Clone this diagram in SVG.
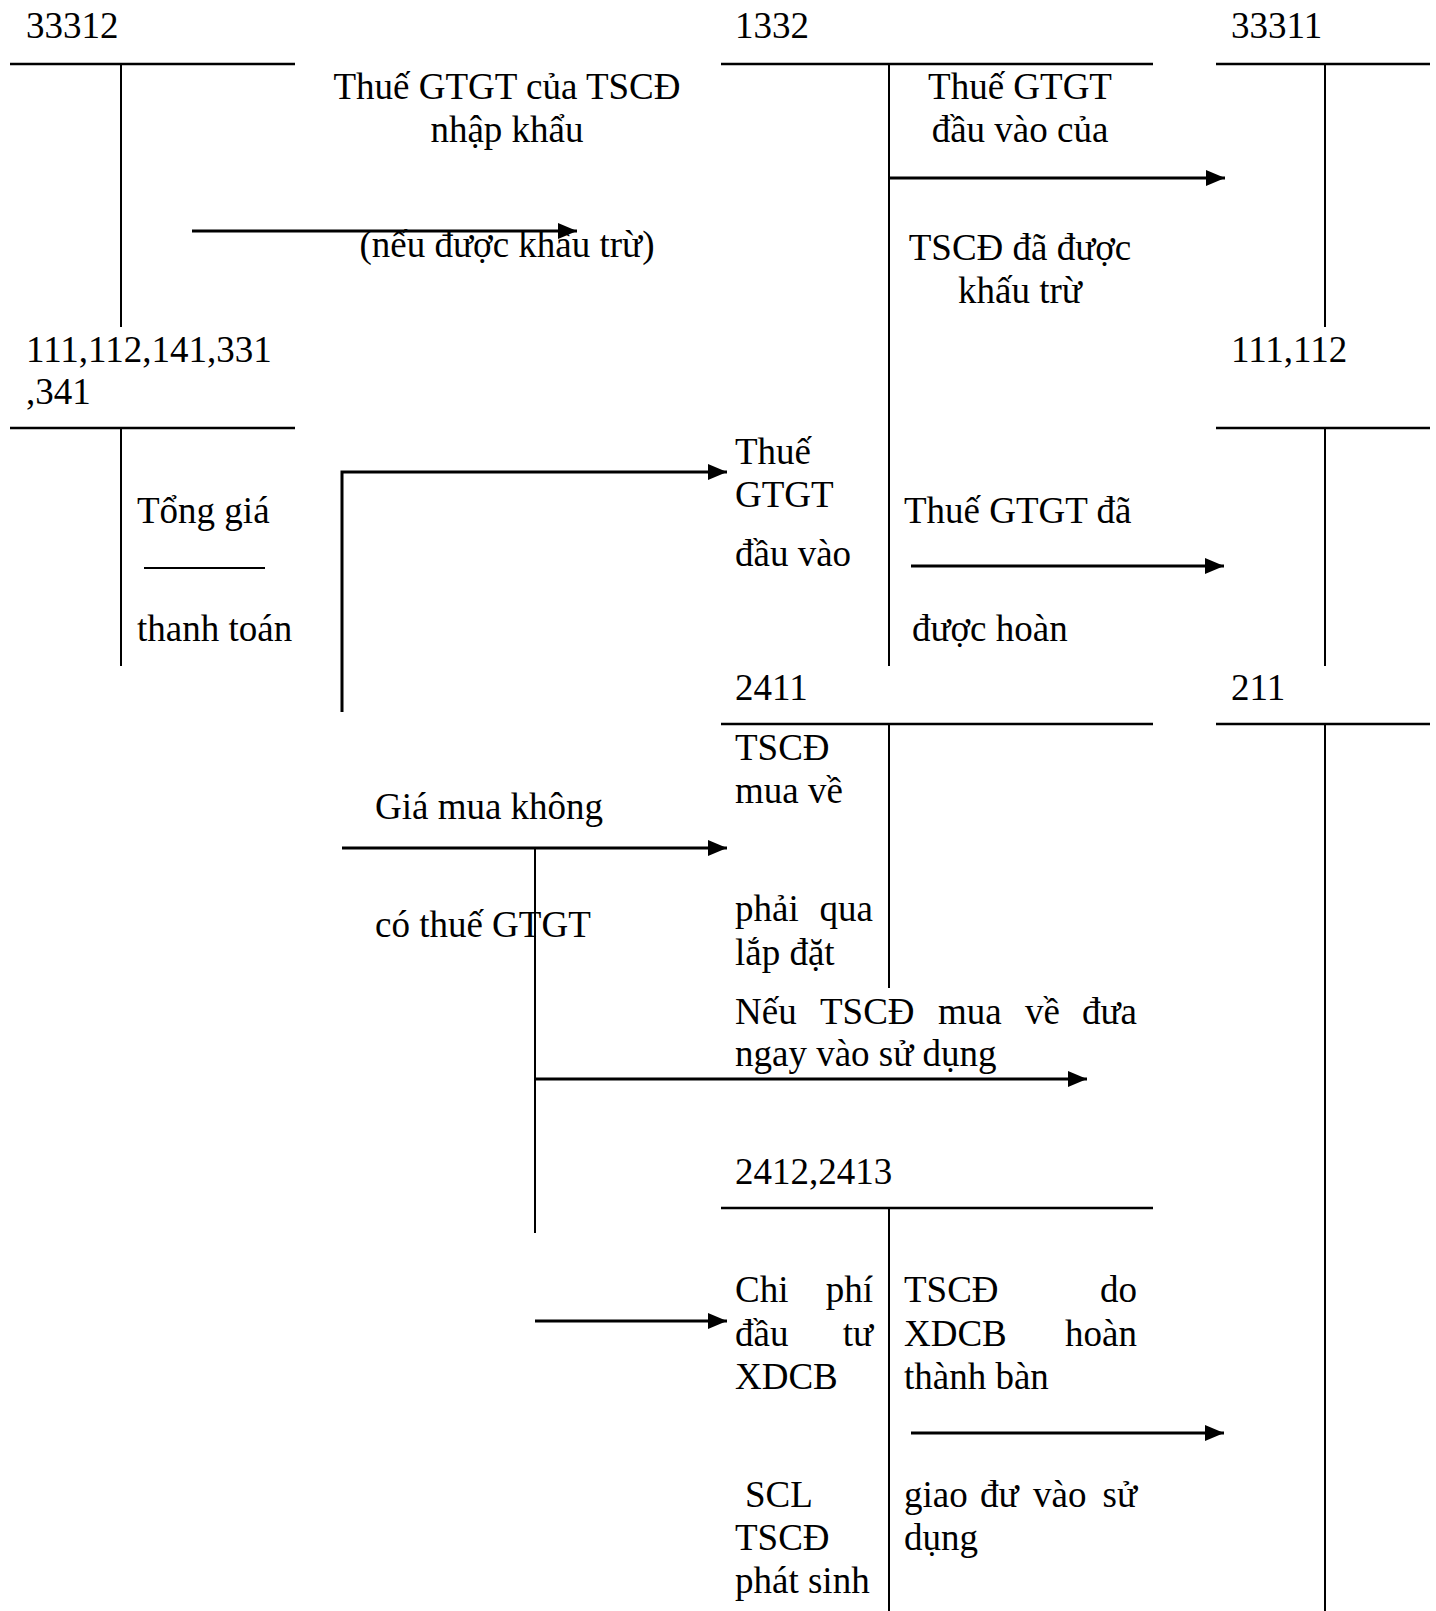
<svg xmlns="http://www.w3.org/2000/svg" width="1436" height="1611" viewBox="0 0 1436 1611">
<defs>
<marker id="ah" markerUnits="userSpaceOnUse" markerWidth="20" markerHeight="16" refX="19" refY="8" orient="auto">
<path d="M0,0 L19,8 L0,16 z" fill="#000"/>
</marker>
</defs>
<style>
text{font-family:"Liberation Serif","Times New Roman",serif;font-size:37px;fill:#000}
.c{text-anchor:middle}
.e{text-anchor:end}
.t{stroke:#000;stroke-width:2.5;fill:none}
.v{stroke:#000;stroke-width:2;fill:none}
.a{stroke:#000;stroke-width:3;fill:none;marker-end:url(#ah)}
</style>
<rect width="1436" height="1611" fill="#fff"/>

<g id="acc-33312">
<text x="26" y="38">33312</text>
<line class="t" x1="10" y1="64" x2="295" y2="64"/>
<line class="v" x1="121" y1="64" x2="121" y2="327"/>
</g>
<g id="acc-1332">
<text x="735" y="38">1332</text>
<line class="t" x1="721" y1="64" x2="1153" y2="64"/>
<line class="v" x1="889" y1="64" x2="889" y2="666"/>
</g>
<g id="acc-33311">
<text x="1231" y="38">33311</text>
<line class="t" x1="1216" y1="64" x2="1430" y2="64"/>
<line class="v" x1="1325" y1="64" x2="1325" y2="327"/>
</g>
<g id="acc-111-341">
<text x="26" y="362">111,112,141,331</text>
<text x="26" y="404">,341</text>
<line class="t" x1="10" y1="428" x2="295" y2="428"/>
<line class="v" x1="121" y1="428" x2="121" y2="666"/>
<text x="137" y="523">Tổng giá</text>
<line class="v" x1="144" y1="568" x2="265" y2="568"/>
<text x="137" y="641">thanh toán</text>
</g>
<g id="acc-111-112">
<text x="1231" y="362">111,112</text>
<line class="t" x1="1216" y1="428" x2="1430" y2="428"/>
<line class="v" x1="1325" y1="428" x2="1325" y2="666"/>
</g>
<g id="acc-2411">
<text x="735" y="700">2411</text>
<line class="t" x1="721" y1="724" x2="1153" y2="724"/>
<line class="v" x1="889" y1="724" x2="889" y2="988"/>
<text x="735" y="760">TSCĐ</text>
<text x="735" y="803">mua về</text>
<text x="735" y="921">phải</text>
<text class="e" x="873" y="921">qua</text>
<text x="735" y="965">lắp đặt</text>
</g>
<g id="acc-211">
<text x="1231" y="700">211</text>
<line class="t" x1="1216" y1="724" x2="1430" y2="724"/>
<line class="v" x1="1325" y1="724" x2="1325" y2="1611"/>
</g>
<g id="acc-2412-2413">
<text x="735" y="1184">2412,2413</text>
<line class="t" x1="721" y1="1208" x2="1153" y2="1208"/>
<line class="v" x1="889" y1="1208" x2="889" y2="1611"/>
<text x="735" y="1302">Chi</text>
<text class="e" x="873" y="1302">phí</text>
<text x="735" y="1346">đầu</text>
<text class="e" x="873" y="1346">tư</text>
<text x="735" y="1389">XDCB</text>
<text x="745" y="1507">SCL</text>
<text x="735" y="1550">TSCĐ</text>
<text x="735" y="1593">phát sinh</text>
</g>

<g id="connectors">
<line class="a" x1="192" y1="231" x2="577" y2="231"/>
<line class="a" x1="889" y1="178" x2="1225" y2="178"/>
<polyline class="a" points="342,712 342,472 727,472"/>
<line class="a" x1="911" y1="566" x2="1224" y2="566"/>
<line class="a" x1="342" y1="848" x2="727" y2="848"/>
<line class="v" x1="535" y1="848" x2="535" y2="1233"/>
<line class="a" x1="535" y1="1079" x2="1087" y2="1079"/>
<line class="a" x1="535" y1="1321" x2="727" y2="1321"/>
<line class="a" x1="911" y1="1433" x2="1224" y2="1433"/>
</g>

<g id="labels">
<text class="c" x="507" y="99">Thuế GTGT của TSCĐ</text>
<text class="c" x="507" y="142">nhập khẩu</text>
<text class="c" x="507" y="257">(nếu được khấu trừ)</text>
<text class="c" x="1020" y="99">Thuế GTGT</text>
<text class="c" x="1020" y="142">đầu vào của</text>
<text class="c" x="1020" y="260">TSCĐ đã được</text>
<text class="c" x="1020" y="303">khấu trừ</text>
<text x="735" y="464">Thuế</text>
<text x="735" y="507">GTGT</text>
<text x="735" y="566">đầu vào</text>
<text x="904" y="523">Thuế GTGT đã</text>
<text x="912" y="641">được hoàn</text>
<text x="375" y="819">Giá mua không</text>
<text x="375" y="937">có thuế GTGT</text>
<text x="735" y="1024">Nếu</text>
<text x="820" y="1024">TSCĐ</text>
<text x="938" y="1024">mua</text>
<text x="1025" y="1024">về</text>
<text class="e" x="1137" y="1024">đưa</text>
<text x="735" y="1066">ngay vào sử dụng</text>
<text x="904" y="1302">TSCĐ</text>
<text class="e" x="1137" y="1302">do</text>
<text x="904" y="1346">XDCB</text>
<text class="e" x="1137" y="1346">hoàn</text>
<text x="904" y="1389">thành bàn</text>
<text x="904" y="1507">giao</text>
<text x="980" y="1507">đư</text>
<text x="1033" y="1507">vào</text>
<text class="e" x="1137" y="1507">sử</text>
<text x="904" y="1550">dụng</text>
</g>
</svg>
